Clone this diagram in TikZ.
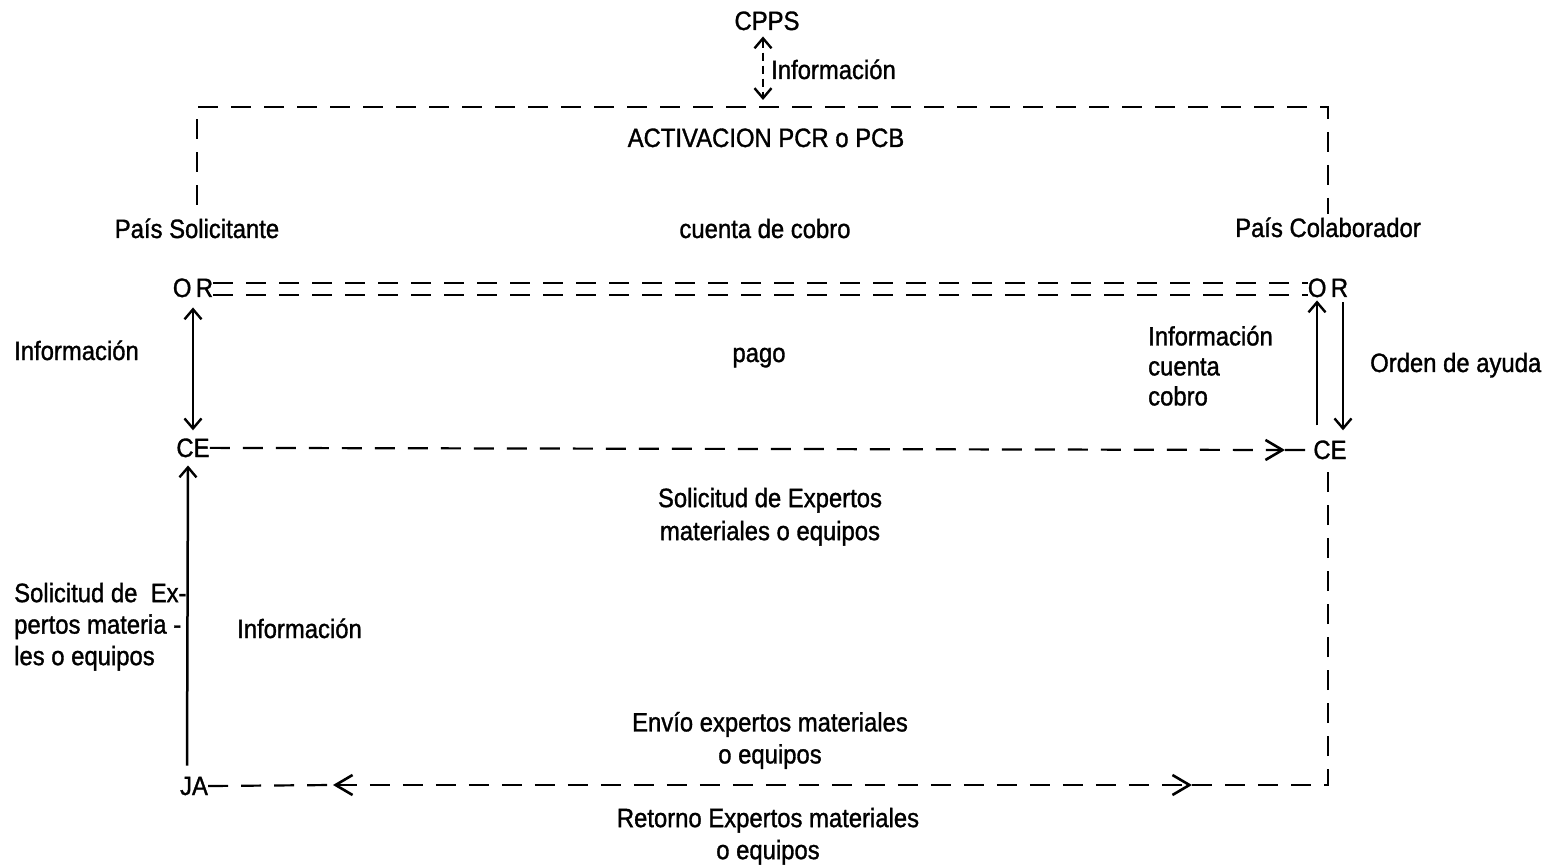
\documentclass[tikz,border=0pt]{standalone}
\usepackage{fontspec}
\setmainfont{Liberation Sans}[FakeStretch=0.9,FakeBold=1.2]
\usetikzlibrary{arrows.meta}
\tikzset{
  smalltip/.tip={Straight Barb[length=10pt,width=17pt,line width=2.4pt]},
  bigtip/.tip={Straight Barb[length=17pt,width=20pt,line width=2.6pt]}
}
\begin{document}
\begin{tikzpicture}[x=1pt,y=-1pt,
  lbl/.style={inner sep=0pt,font=\fontsize{26.5}{32}\selectfont},
  conn/.style={line width=2.5pt},
  dsh/.style={line width=2.2pt,dash pattern=on 20pt off 13pt}
]
\useasboundingbox (0,0) rectangle (1547,866);
\fill[white] (0,0) rectangle (1547,866);

% labels / nodes
\node[lbl,anchor=base] (cpps) at (767,30) {CPPS};
\node[lbl,anchor=base west] (infotop) at (771,79) {Información};
\node[lbl,anchor=base] (act) at (766,147) {ACTIVACION PCR o PCB};
\node[lbl,anchor=base] (ps) at (197,238) {País Solicitante};
\node[lbl,anchor=base] (cc) at (765,238) {cuenta de cobro};
\node[lbl,anchor=base] (pc) at (1328,237) {País Colaborador};
\node[lbl,anchor=base] (orL) at (193,297) {O\,R};
\node[lbl,anchor=base] (orR) at (1328,297) {O\,R};
\node[lbl,anchor=base] (ceL) at (193,457) {CE};
\node[lbl,anchor=base] (ceR) at (1330,459) {CE};
\node[lbl,anchor=base] (ja) at (194,795) {JA};

\node[lbl,anchor=base west] (infoL) at (14,360) {Información};
\node[lbl,anchor=base] (pago) at (759,362) {pago};
\node[lbl,anchor=north west,align=left,font=\fontsize{26.5}{30}\selectfont] (infoR) at (1148,325.7) {Información\\cuenta\\cobro};
\node[lbl,anchor=base west] (orden) at (1370,372) {Orden de ayuda};
\node[lbl,anchor=north,align=center,font=\fontsize{26.5}{33}\selectfont] (solexp) at (770,487.7) {Solicitud de Expertos\\materiales o equipos};
\node[lbl,anchor=north west,align=left,font=\fontsize{26.5}{31.5}\selectfont] (solL) at (14,582.7) {Solicitud de~ Ex-\\pertos materia -\\les o equipos};
\node[lbl,anchor=base west] (infoM) at (237,638) {Información};
\node[lbl,anchor=north,align=center] (envio) at (770,711.7) {Envío expertos materiales\\o equipos};
\node[lbl,anchor=north,align=center] (retorno) at (768,807.7) {Retorno Expertos materiales\\o equipos};

% coordinates
\coordinate (tl) at (197,107);
\coordinate (tr) at (1328,107);
\coordinate (psTop) at (197,205);
\coordinate (pcTop) at (1328,214);
\coordinate (topmid) at (763,107);
\coordinate (ceArr) at (1285,450);
\coordinate (jaL) at (333,785);
\coordinate (jaR) at (1192,785);
\coordinate (corner) at (1328,785);

% CPPS <-> box
\draw[line width=2.2pt,dash pattern=on 8pt off 5pt,smalltip-smalltip] ([xshift=-4pt,yshift=-6pt]cpps.south) -- ([yshift=7pt]topmid);

% top dashed box
\draw[dsh] (psTop) -- (tl) -- (tr) -- (pcTop);

% double dashed line OR -- OR
\draw[dsh] ([yshift=4.5pt]orL.east) -- ([yshift=4.5pt]orR.west);
\draw[dsh] ([yshift=-7.5pt]orL.east) -- ([yshift=-7.5pt]orR.west);

% OR <-> CE left
\draw[conn,smalltip-smalltip] ([yshift=-10pt]orL.south) -- ([yshift=8pt]ceL.north);

% right side arrows
\draw[conn,-smalltip] ([xshift=-13pt,yshift=15pt]ceR.north) -- ([xshift=-11pt,yshift=-3pt]orR.south);
\draw[conn,-smalltip] ([xshift=15pt,yshift=-5pt]orR.south) -- ([xshift=13pt,yshift=10pt]ceR.north);

% CE -- CE dashed with arrow
\draw[dsh,-bigtip] (ceL.east) -- (ceArr);
\draw[dsh] (ceArr) -- (ceR.west);

% JA -> CE solid
\draw[conn,-smalltip] ([xshift=-7pt,yshift=11pt]ja.north) -- ([xshift=-5pt,yshift=-8pt]ceL.south);

% JA line with return
\draw[dsh] (ja.east) -- (jaL);
\draw[dsh,bigtip-bigtip] (jaL) -- (jaR);
\draw[dsh] (jaR) -- (corner) -- ([xshift=-2pt,yshift=-6pt]ceR.south);
\end{tikzpicture}
\end{document}
